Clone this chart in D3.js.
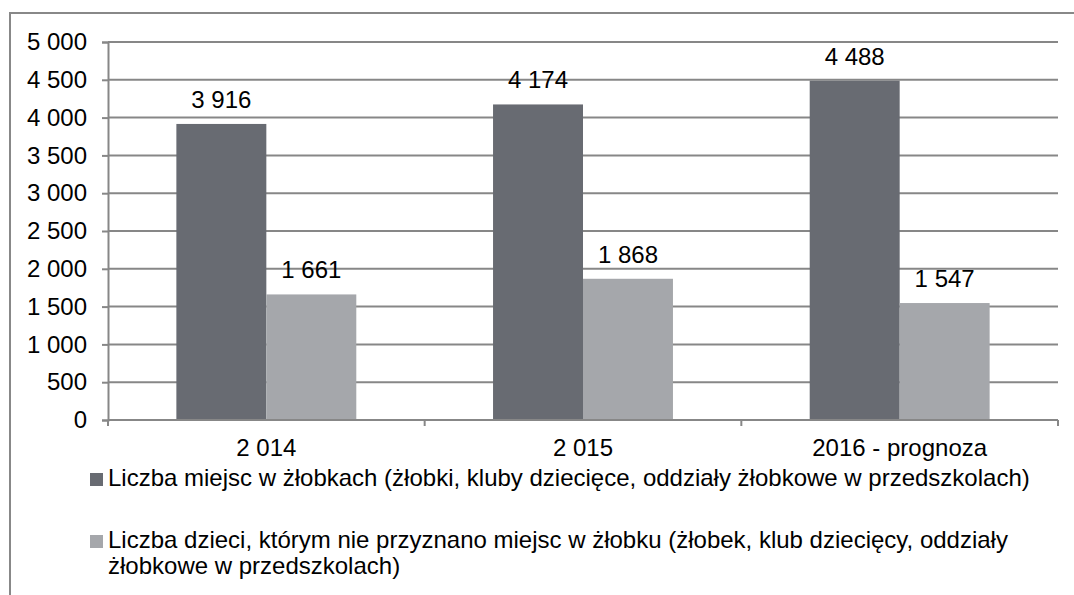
<!DOCTYPE html>
<html>
<head>
<meta charset="utf-8">
<script src="https://cdn.jsdelivr.net/npm/d3@7"></script>
<style>
  body { margin: 0; background: #fff; }
  text { font-family: "Liberation Sans", Arial, sans-serif; fill: #000; }
</style>
</head>
<body>
<script>
var categories = ["2 014", "2 015", "2016 - prognoza"];
var series = [
  "Liczba miejsc w żłobkach (żłobki, kluby dziecięce, oddziały żłobkowe w przedszkolach)",
  "Liczba dzieci, którym nie przyznano miejsc w żłobku (żłobek, klub dziecięcy, oddziały|żłobkowe w przedszkolach)"
];
var placesValues = [3916, 4174, 4488];
var childrenValues = [1661, 1868, 1547];
var yTicks = [0, 500, 1000, 1500, 2000, 2500, 3000, 3500, 4000, 4500, 5000];
var colors = ["#686b72", "#a5a7ab"];

var width = 1074, height = 595;
var margin = {top: 42, left: 108, right: 16, bottom: 175};
var plotW = width - margin.left - margin.right,
    plotH = height - margin.top - margin.bottom;
var fontSize = "24px";

var loc = d3.formatLocale({decimal: ",", thousands: "\u00a0", grouping: [3], currency: ["", ""]});
var fmt = loc.format(",d");

var svg = d3.select("body").append("svg")
    .attr("width", width)
    .attr("height", height);

// outer chart frame (right and bottom edges are off-canvas)
svg.append("rect")
    .attr("x", 10).attr("y", 13)
    .attr("width", 1100).attr("height", 700)
    .attr("fill", "none")
    .attr("stroke", "#888")
    .attr("stroke-width", 2);

var g = svg.append("g")
    .attr("transform", "translate(" + margin.left + "," + margin.top + ")");

var x0 = d3.scaleBand().domain(categories).range([0, plotW]).padding(0);
var x1 = d3.scaleBand().domain([0, 1]).range([0, x0.bandwidth()])
    .paddingInner(0).paddingOuter(0.76);
var y = d3.scaleLinear().domain([0, 5000]).range([plotH, 0]);

// gridlines
g.selectAll(".grid")
    .data(yTicks.slice(1))
  .enter().append("line")
    .attr("x1", 0).attr("x2", plotW)
    .attr("y1", function(d) { return y(d); })
    .attr("y2", function(d) { return y(d); })
    .attr("stroke", "#878787")
    .attr("stroke-width", 2);

// y axis
var yAxis = g.append("g")
    .call(d3.axisLeft(y).tickValues(yTicks).tickFormat(fmt).tickSize(6).tickPadding(15));
yAxis.select(".domain").attr("stroke", "#878787").attr("stroke-width", 2);
yAxis.selectAll(".tick line").attr("stroke", "#878787").attr("stroke-width", 2);
yAxis.selectAll("text").style("font-size", fontSize).attr("fill", "#000");

var data = categories.map(function(c, i) {
  return {cat: c, vals: [placesValues[i], childrenValues[i]]};
});

var groups = g.selectAll(".grp")
    .data(data)
  .enter().append("g")
    .attr("transform", function(d) { return "translate(" + x0(d.cat) + ",0)"; });

groups.selectAll("rect")
    .data(function(d) { return d.vals; })
  .enter().append("rect")
    .attr("x", function(d, i) { return x1(i); })
    .attr("width", x1.bandwidth())
    .attr("y", function(d) { return y(d); })
    .attr("height", function(d) { return plotH - y(d); })
    .attr("fill", function(d, i) { return colors[i]; });

groups.selectAll(".lbl")
    .data(function(d) { return d.vals; })
  .enter().append("text")
    .attr("x", function(d, i) { return x1(i) + x1.bandwidth() / 2; })
    .attr("y", function(d) { return y(d) - 16; })
    .attr("text-anchor", "middle")
    .style("font-size", fontSize)
    .text(function(d) { return fmt(d); });

// x axis
var xAxis = g.append("g")
    .attr("transform", "translate(0," + plotH + ")")
    .call(d3.axisBottom(x0).tickSize(0).tickPadding(19));
xAxis.select(".domain").remove();
xAxis.selectAll("text").style("font-size", fontSize).attr("fill", "#000");
g.append("line")
    .attr("x1", 0).attr("x2", plotW)
    .attr("y1", plotH).attr("y2", plotH)
    .attr("stroke", "#878787").attr("stroke-width", 2);
g.selectAll(".xtick")
    .data(d3.range(categories.length + 1))
  .enter().append("line")
    .attr("x1", function(i) { return i * x0.step(); })
    .attr("x2", function(i) { return i * x0.step(); })
    .attr("y1", plotH).attr("y2", plotH + 6)
    .attr("stroke", "#878787").attr("stroke-width", 2);

// legend (y = text baseline)
var legendY = [486, 548];
series.forEach(function(s, i) {
  svg.append("rect")
    .attr("x", 90).attr("y", legendY[i] - 13)
    .attr("width", 13).attr("height", 13)
    .attr("fill", colors[i]);
  var t = svg.append("text")
    .attr("x", 108).attr("y", legendY[i])
    .style("font-size", fontSize);
  s.split("|").forEach(function(line, j) {
    t.append("tspan")
      .attr("x", 108)
      .attr("dy", j === 0 ? 0 : 26)
      .text(line);
  });
});
</script>
</body>
</html>
